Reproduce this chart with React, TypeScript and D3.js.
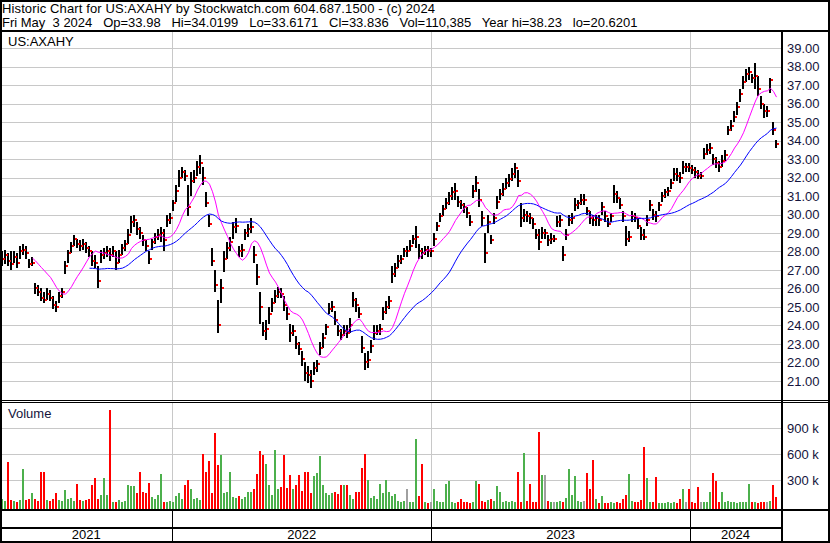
import React from "react";
import * as d3 from "d3";

// ---- data (one sample ≈ every 3 px ≈ 3 trading days) ----
const hi = [
  28.0, 28.1, 27.9, 28.0, 28.0, 27.9, 28.3, 28.4, 28.3, 27.6, 27.7,
  26.3, 26.2, 26.0, 25.8, 26.0, 25.9, 25.6, 25.3, 25.8, 26.0,
  27.5, 28.1, 28.5, 28.9, 28.7, 28.6, 28.7, 28.5, 28.3, 28.0, 27.8, 27.2, 28.1, 28.2, 28.3, 28.2, 28.3, 28.0, 28.1, 28.4, 28.6,
  29.2, 29.9, 30.0, 29.6, 29.3, 28.9, 28.6, 28.0, 28.7, 29.0, 29.2, 29.3, 29.2, 30.0, 30.1, 30.8, 31.6, 32.4, 32.6, 32.4, 31.6, 32.3, 32.4, 32.9,
  33.2, 32.6, 31.2, 30.0, 28.2, 27.0, 25.4, 26.5, 28.0, 28.5, 28.8, 29.6, 29.8, 28.3, 28.4, 29.2, 29.5, 29.8, 28.3, 27.3,
  25.8, 24.2, 24.3, 25.0, 25.5, 25.9, 26.1, 26.0, 25.6, 25.0, 24.1, 24.0, 23.4, 23.1, 22.6, 22.0, 21.8, 21.6, 22.0, 22.1,
  23.1, 23.6, 24.1, 25.2, 25.3, 24.8, 24.0, 23.8, 24.0, 24.0, 24.4, 25.8, 25.5, 25.0, 23.4, 22.5, 22.6, 23.2, 24.0, 24.0,
  24.1, 25.0, 25.3, 25.6, 27.2, 27.4,
  27.8, 27.8, 28.2, 28.3, 28.6, 28.9, 29.4, 28.4, 28.2, 28.3, 28.3, 28.2, 29.0, 29.6, 30.1, 30.5, 30.9, 31.2, 31.5, 31.7,
  31.0, 30.8, 30.6, 30.4, 30.0, 31.6, 32.1, 31.4, 30.2, 29.0, 30.0, 28.9, 30.1, 31.0, 31.4, 31.7, 32.0, 32.2, 32.5, 32.8,
  32.4, 30.6, 30.3, 30.2, 30.1, 29.8, 29.2, 29.2, 29.3, 29.2, 28.9, 29.0, 28.9, 29.9, 30.0, 28.3, 29.2, 30.0, 30.1, 30.9,
  30.8, 31.1, 31.1, 30.4,
  30.2, 30.0, 30.0, 30.0, 30.7, 30.2, 29.8, 30.1, 31.6, 31.3, 30.9, 30.2, 29.4, 29.1, 30.2, 30.1, 29.8, 29.3, 29.2, 30.0,
  30.8, 30.3, 30.2, 30.7, 31.2, 31.4, 31.5, 31.9, 32.5, 32.5, 32.3, 32.9, 32.8, 32.8, 32.7, 32.6, 32.4, 32.3, 33.6, 33.8,
  33.9, 33.3, 33.1, 32.9, 33.2, 33.5, 34.8, 35.1, 35.6, 36.1, 36.8, 37.5, 37.9, 38.0, 37.6, 38.2, 37.5, 36.4, 36.0, 35.9,
  37.4, 35.0, 34.02,
];
const lo = [
  27.2, 27.3, 27.2, 27.0, 27.4, 27.1, 27.6, 27.8, 27.6, 27.1, 27.2,
  25.7, 25.6, 25.3, 25.2, 25.4, 25.3, 24.9, 24.7, 25.2, 25.5,
  26.8, 27.4, 27.9, 28.3, 28.2, 28.0, 28.1, 27.9, 27.7, 27.2, 27.1, 26.0, 27.4, 27.6, 27.7, 27.5, 27.7, 27.0, 27.4, 27.8, 28.0,
  28.4, 29.0, 29.3, 28.9, 28.7, 28.3, 28.0, 27.3, 28.1, 28.4, 28.6, 28.5, 28.0, 29.3, 29.5, 30.2, 30.7, 31.5, 32.0, 31.8, 29.9, 31.0, 31.7, 32.1,
  32.2, 31.6, 30.4, 29.3, 27.2, 25.8, 23.6, 25.2, 26.9, 27.6, 28.0, 28.7, 29.0, 27.7, 27.7, 28.6, 28.8, 29.0, 27.4, 26.2,
  24.1, 23.4, 23.2, 24.1, 24.7, 25.2, 25.5, 25.5, 24.8, 24.3, 23.1, 23.4, 22.7, 22.4, 21.8, 21.0, 20.9, 20.6, 21.3, 21.5,
  22.4, 22.8, 23.5, 24.6, 24.7, 24.0, 23.4, 23.2, 23.4, 23.3, 23.6, 25.0, 24.7, 24.4, 22.5, 21.6, 21.7, 22.5, 23.2, 23.5,
  23.5, 24.3, 24.6, 24.9, 26.3, 26.6,
  27.1, 27.3, 27.7, 27.7, 28.0, 28.4, 28.2, 27.6, 27.6, 27.8, 27.7, 27.7, 28.3, 29.1, 29.6, 29.9, 30.3, 30.5, 30.8, 30.8,
  30.4, 30.3, 30.1, 29.8, 29.4, 30.9, 31.2, 30.4, 29.4, 27.4, 29.0, 28.4, 29.5, 30.3, 30.8, 31.0, 31.4, 31.5, 31.8, 32.0,
  31.5, 29.3, 29.6, 29.6, 29.5, 29.2, 28.7, 28.1, 28.7, 28.7, 28.3, 28.4, 28.5, 29.3, 29.3, 27.5, 28.6, 29.4, 29.5, 30.2,
  30.3, 30.5, 30.5, 30.0,
  29.5, 29.4, 29.4, 29.4, 30.0, 29.6, 29.3, 29.6, 30.6, 30.6, 30.3, 29.6, 28.3, 28.5, 29.6, 29.6, 29.2, 28.6, 28.6, 29.4,
  30.2, 29.7, 29.6, 30.2, 30.7, 30.9, 31.0, 31.4, 31.8, 31.8, 31.7, 32.2, 32.3, 32.3, 32.2, 32.0, 31.9, 31.9, 33.0, 33.2,
  33.3, 32.7, 32.5, 32.3, 32.6, 32.9, 34.3, 34.5, 35.0, 35.4, 36.1, 36.8, 37.2, 37.3, 37.1, 36.8, 36.4, 35.7, 35.2, 35.3,
  36.6, 34.3, 33.62,
];
const cl = [
  27.6, 27.8, 27.5, 27.3, 27.7, 27.4, 28.0, 28.1, 27.9, 27.3, 27.4,
  26.0, 25.8, 25.5, 25.4, 25.7, 25.5, 25.1, 25.0, 25.6, 25.8,
  27.2, 27.9, 28.3, 28.7, 28.4, 28.3, 28.4, 28.2, 28.0, 27.5, 27.4, 26.4, 27.8, 27.9, 28.0, 27.8, 28.0, 27.4, 27.8, 28.2, 28.4,
  28.9, 29.6, 29.7, 29.2, 29.0, 28.6, 28.3, 27.6, 28.5, 28.8, 28.9, 29.0, 28.6, 29.7, 29.8, 30.6, 31.3, 32.0, 32.3, 32.1, 30.4, 31.8, 32.0, 32.6,
  32.8, 32.0, 30.6, 29.5, 27.5, 26.2, 24.0, 26.0, 27.6, 28.2, 28.5, 29.3, 29.4, 28.0, 28.1, 29.0, 29.2, 29.3, 27.8, 26.6,
  25.0, 23.7, 23.8, 24.6, 25.2, 25.6, 25.8, 25.7, 25.1, 24.6, 23.6, 23.7, 23.0, 22.7, 22.2, 21.4, 21.3, 21.0, 21.7, 21.9,
  22.8, 23.3, 23.9, 24.9, 25.0, 24.3, 23.7, 23.5, 23.7, 23.6, 24.0, 25.4, 25.1, 24.6, 22.8, 22.0, 22.1, 22.9, 23.6, 23.7,
  23.8, 24.7, 25.0, 25.3, 26.8, 27.1,
  27.5, 27.6, 28.0, 28.0, 28.3, 28.7, 28.8, 28.0, 27.9, 28.1, 28.0, 28.0, 28.7, 29.4, 29.9, 30.3, 30.6, 31.0, 31.2, 31.3,
  30.7, 30.5, 30.4, 30.1, 29.6, 31.3, 31.7, 30.8, 29.8, 27.9, 29.6, 28.6, 29.8, 30.7, 31.1, 31.4, 31.7, 31.9, 32.2, 32.5,
  31.8, 29.8, 30.0, 29.9, 29.8, 29.5, 28.9, 28.5, 29.0, 29.0, 28.6, 28.7, 28.7, 29.6, 29.7, 27.8, 28.9, 29.7, 29.8, 30.5,
  30.6, 30.8, 30.8, 30.2,
  29.8, 29.7, 29.8, 29.7, 30.4, 29.9, 29.5, 29.9, 31.1, 30.9, 30.5, 29.9, 28.7, 28.8, 29.9, 29.8, 29.4, 28.9, 28.8, 29.7,
  30.5, 30.0, 29.9, 30.5, 31.0, 31.2, 31.3, 31.7, 32.2, 32.1, 32.0, 32.6, 32.6, 32.5, 32.4, 32.3, 32.1, 32.1, 33.3, 33.5,
  33.6, 33.0, 32.8, 32.6, 32.9, 33.2, 34.6, 34.8, 35.3, 35.8, 36.5, 37.2, 37.6, 37.7, 37.4, 37.5, 36.8, 36.0, 35.6, 35.6,
  37.3, 34.6, 33.836,
];
// volume, thousands of shares
const vol = [
  80, 60, 515, 70, 60, 55, 70, 430, 70, 90, 150,
  80, 60, 400, 400, 70, 65, 80, 150, 70, 60,
  190, 80, 100, 65, 255, 70, 60, 70, 80, 250, 330, 80, 135, 330, 135, 1110, 50, 45, 70, 55, 60,
  250, 230, 240, 150, 400, 160, 150, 265, 110, 90, 130, 373, 50, 45, 60, 50, 120, 150, 90, 250, 300, 200, 80, 100,
  70, 600, 400, 520, 150, 850, 480, 590, 150, 170, 400, 110, 100, 120, 90, 110, 170, 160, 200, 370,
  640, 590, 490, 250, 130, 650, 200, 220, 590, 215, 360, 200, 250, 360, 180, 400, 400, 150, 350, 380,
  580, 250, 150, 130, 150, 160, 140, 250, 250, 245, 130, 90, 170, 160, 440, 600, 300, 100, 120, 90,
  260, 150, 300, 160, 120, 140,
  60, 55, 60, 200, 50, 55, 775, 120, 490, 50, 40, 45, 200, 60, 55, 50, 260, 290, 45, 40,
  50, 80, 45, 50, 40, 55, 290, 260, 60, 50, 70, 80, 60, 240, 160, 55, 60, 50, 60, 55,
  400, 50, 615, 60, 260, 50, 55, 855, 360, 360, 60, 50, 45, 55, 60, 50, 100, 430, 130, 350,
  60, 55, 60, 380,
  200, 540, 80, 40, 120, 40, 35, 45, 40, 45, 40, 80, 130, 370, 60, 45, 50, 70, 685, 330,
  50, 45, 340, 35, 40, 35, 50, 40, 45, 40, 80, 200, 50, 200, 45, 40, 220, 50, 45, 55,
  160, 380, 290, 50, 160, 50, 60, 45, 50, 40, 55, 45, 50, 260, 50, 45, 40, 50, 45, 55,
  60, 250, 110,
];
const priceTicks = [21, 22, 23, 24, 25, 26, 27, 28, 29, 30, 31, 32, 33, 34, 35, 36, 37, 38, 39];
const volTicks = [300, 600, 900];
const years = [2021, 2022, 2023, 2024];
const symbol = "US:AXAHY";
const titleText = "Historic Chart for US:AXAHY by Stockwatch.com 604.687.1500 - (c) 2024";
const infoText = "Fri May  3 2024   Op=33.98   Hi=34.0199   Lo=33.6171   Cl=33.836   Vol=110,385   Year hi=38.23   lo=20.6201";
const firstDay = new Date(2021, 4, 6);
const lastDay = new Date(2024, 4, 1);
const MA_SHORT = 11;
const MA_LONG = 30;

function sma(a: number[], n: number): (number | null)[] {
  return a.map((_, i) => (i < n - 1 ? null : (d3.mean(a.slice(i - n + 1, i + 1)) as number)));
}

export default function App() {
  const W = 830, H = 543;
  const FONT = "'Liberation Sans', Arial, sans-serif";
  const AXIS_X = 781;
  const N = cl.length;

  const x = d3.scaleTime().domain([new Date(2021, 4, 3), new Date(2024, 4, 3)]).range([0, 777.3]);
  const stepMs = (lastDay.getTime() - firstDay.getTime()) / (N - 1);
  const dates = cl.map((_, i) => new Date(firstDay.getTime() + i * stepMs));
  const xs = dates.map((d) => Math.round(x(d)));

  const y = d3.scaleLinear().domain([21, 39]).range([380.8, 48.3]);
  const yv = d3.scaleLinear().domain([0, 900]).range([506.3, 428.3]);
  const VOL_BASE = 509;

  const maS = sma(cl, MA_SHORT);
  const maL = sma(cl, MA_LONG);
  const line = d3
    .line<number | null>()
    .defined((d) => d != null)
    .x((_, i) => xs[i] + 0.5)
    .y((d) => y(d as number));

  const yearX = years.map((yr) => Math.round(x(new Date(yr, 0, 1))));
  const yearBounds = years.map((yr) => [
    Math.max(0, x(new Date(yr, 0, 1))),
    Math.min(AXIS_X, x(new Date(yr + 1, 0, 1))),
  ]);

  const green = "#4cb04c", red = "#ff0000", grey = "#a0a0a0";
  const volColor = (i: number) => (i === 0 ? green : cl[i] > cl[i - 1] ? green : cl[i] < cl[i - 1] ? red : grey);
  const labelColor = "#14143c";

  return (
    <svg width={W} height={H} style={{ display: "block", position: "absolute", left: 0, top: 0, background: "#fff" }} fontFamily={FONT}>
      <rect x={0} y={0} width={W} height={H} fill="#fff" />
      {/* title */}
      <text x={2} y={13} fontSize={13} fill="#000" textLength={433} lengthAdjust="spacing" xmlSpace="preserve" style={{ whiteSpace: "pre" }}>{titleText}</text>
      <text x={2} y={27} fontSize={13} fill="#000" xmlSpace="preserve" style={{ whiteSpace: "pre" }}>{infoText}</text>

      <g shapeRendering="crispEdges">
        {/* price grid */}
        {priceTicks.map((v) => (
          <line key={v} x1={2} x2={AXIS_X} y1={Math.round(y(v)) + 0.5} y2={Math.round(y(v)) + 0.5} stroke="#c8c8c8" />
        ))}
        {/* volume grid */}
        {volTicks.map((v) => (
          <line key={v} x1={2} x2={AXIS_X} y1={Math.round(yv(v)) + 0.5} y2={Math.round(yv(v)) + 0.5} stroke="#c8c8c8" />
        ))}
        {/* year grid lines */}
        {yearX.slice(1).map((px, i) => (
          <g key={i}>
            <line x1={px + 0.5} x2={px + 0.5} y1={32} y2={400} stroke="#c8c8c8" />
            <line x1={px + 0.5} x2={px + 0.5} y1={403} y2={509} stroke="#c8c8c8" />
            <line x1={px + 0.5} x2={px + 0.5} y1={511} y2={541} stroke="#000" />
          </g>
        ))}

        {/* volume bars */}
        {vol.map((v, i) => (
          <rect key={i} x={xs[i] - 1} width={2} y={Math.round(yv(v))} height={VOL_BASE - Math.round(yv(v))} fill={volColor(i)} />
        ))}

        {/* price bars */}
        {hi.map((h, i) => (
          <rect key={i} x={xs[i] - 1} width={2} y={Math.round(y(h))} height={Math.max(1, Math.round(y(lo[i])) - Math.round(y(h)))} fill="#000" />
        ))}
        {cl.map((c, i) => (
          <rect key={i} x={xs[i] + 1} width={2} y={Math.round(y(c)) - 1} height={2} fill={red} />
        ))}
      </g>

      {/* moving averages */}
      <path d={line(maS) || ""} fill="none" stroke="#ff00ff" strokeWidth={1} />
      <path d={line(maL) || ""} fill="none" stroke="#0000ff" strokeWidth={1} />

      <g shapeRendering="crispEdges">
        {/* frame and separators */}
        <rect x={0} y={30} width={W} height={2} fill="#000" />
        <rect x={0} y={400} width={W} height={1} fill="#000" />
        <rect x={0} y={402} width={W} height={1} fill="#000" />
        <rect x={0} y={509} width={W} height={2} fill="#000" />
        <rect x={0} y={527} width={AXIS_X} height={2} fill="#000" />
        <rect x={AXIS_X} y={31} width={2} height={H - 31} fill="#000" />
        <rect x={1} y={1} width={W - 2} height={H - 2} fill="none" stroke="#000" strokeWidth={2} />
      </g>

      {/* panel labels */}
      <text x={8} y={46} fontSize={13} fill="#000">{symbol}</text>
      <text x={8} y={418} fontSize={13} fill={labelColor}>Volume</text>

      {/* axis labels */}
      {priceTicks.map((v) => (
        <text key={v} x={787} y={y(v) + 4.7} fontSize={13} fill={labelColor}>{v.toFixed(2)}</text>
      ))}
      {volTicks.map((v) => (
        <text key={v} x={787} y={yv(v) + 4.7} fontSize={13} fill={labelColor}>{`${v} k`}</text>
      ))}

      {/* year labels */}
      {years.map((yr, i) => (
        <text key={yr} x={(yearBounds[i][0] + yearBounds[i][1]) / 2} y={539} fontSize={13} textAnchor="middle" fill="#000">{yr}</text>
      ))}
    </svg>
  );
}
